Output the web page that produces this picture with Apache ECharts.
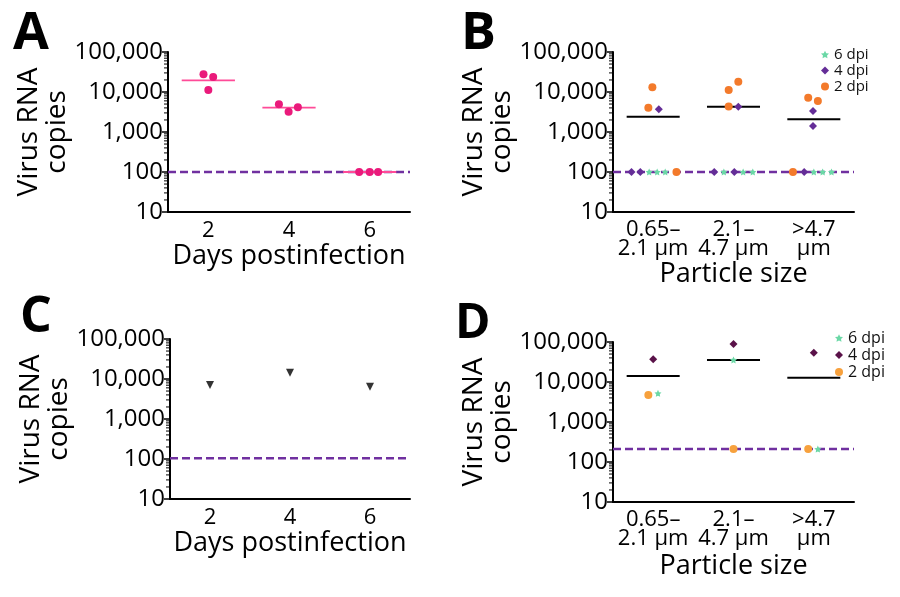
<!DOCTYPE html>
<html><head><meta charset="utf-8">
<script src="https://cdn.jsdelivr.net/npm/echarts@6/dist/echarts.min.js"></script>
<style>html,body{margin:0;padding:0;background:#fff}#c{width:900px;height:597px}</style>
</head><body><div id="c"></div><script>
// ---- data ----
const dayCategories = ['2', '4', '6'];
const sizeCategories = ['0.65–\n2.1 µm', '2.1–\n4.7 µm', '>4.7\nµm'];
const yTickValues = [10, 100, 1000, 10000, 100000];
const dpiNames = ['6 dpi', '4 dpi', '2 dpi'];

const aValues = [[27700, 23700, 11200], [4920, 3220, 4140], [100, 100, 100]];
const aMeans = [19600, 4070, 100];
const aLimit = 100;

const b2dpi = [[13100, 4050, 100], [11200, 18000, 4370], [7200, 5960, 100]];
const b4dpi = [[3700, 100, 100], [4300, 100, 100], [3350, 1410, 100]];
const b6dpi = [[100, 100, 100], [100, 100, 100], [100, 100, 100]];
const bMeans = [2420, 4300, 2080];
const bLimit = 100;

const cValues = [7080, 14400, 6430];
const cLimit = 105;

const d2dpi = [4730, 210, 210];
const d4dpi = [36900, 89000, 54000];
const d6dpi = [5200, 35600, 210];
const dMeans = [14100, 35500, 12800];
const dLimit = 210;

// ---- layout constants (horizontal jitter of points, in band units) ----
const JIT_A = [[-0.06, 0.06, 0], [-0.125, -0.005, 0.11], [-0.13, 0, 0.105]];
const JIT_B2 = [[-0.01, -0.06, 0.29], [-0.06, 0.06, -0.06], [-0.07, 0.05, -0.26]];
const JIT_B4 = [[0.07, -0.27, -0.16], [0.06, -0.24, 0.01], [-0.01, -0.01, -0.12]];
const JIT_B6 = [[-0.05, 0.05, 0.15], [-0.12, 0.12, 0.24], [0, 0.11, 0.22]];
const JIT_D2 = [-0.06, 0, -0.07];
const JIT_D4 = [0, 0, 0];
const JIT_D6 = [0.06, 0, 0.05];
const HALF = 0.33;

const FONT = '"Open Sans", "Noto Sans", sans-serif';
const STAR = 'path://M0,-10L2.9,-4L9.5,-3.1L4.8,1.5L5.9,8.1L0,5L-5.9,8.1L-4.8,1.5L-9.5,-3.1L-2.9,-4Z';
const C = {
  pink: '#ea1a7b', pinkLine: '#ff4b98', lod: '#7030a0',
  bOrange: '#f37a2b', bPurple: '#642d97', green: '#6bd8a6',
  dPurple: '#5a1249', dOrange: '#f7a13d', tri: '#333333'
};

const chart = echarts.init(document.getElementById('c'), null, {renderer: 'canvas'});

const grids = [
  {left: 168, top: 52, width: 242, height: 160},
  {left: 613, top: 52, width: 241, height: 160},
  {left: 170, top: 339, width: 240, height: 160},
  {left: 613, top: 342, width: 241, height: 160}
];

function catAxis(gi, cats, name, gap, lh) {
  return {
    type: 'category', gridIndex: gi, data: cats, boundaryGap: true,
    axisLine: {lineStyle: {color: '#000', width: 2}},
    axisTick: {alignWithLabel: true, length: 5, lineStyle: {color: '#000', width: 1.5}},
    axisLabel: {color: '#000', fontSize: 22, fontFamily: FONT, margin: 8, lineHeight: lh || 22, interval: 0},
    name: name, nameLocation: 'middle', nameGap: gap,
    nameTextStyle: {color: '#000', fontSize: 27, fontFamily: FONT},
    splitLine: {show: false}
  };
}
function valAxis(gi) {
  return {type: 'value', gridIndex: gi, min: 0.5, max: 3.5, show: false};
}
function logAxis(gi) {
  return {
    type: 'log', logBase: 10, gridIndex: gi, min: yTickValues[0], max: yTickValues[yTickValues.length - 1],
    axisLine: {show: true, lineStyle: {color: '#000', width: 2}},
    axisTick: {show: true, length: 6, lineStyle: {color: '#000', width: 1.5}},
    axisLabel: {color: '#000', fontSize: 24, fontFamily: FONT, margin: 5,
      formatter: v => Number(v).toLocaleString('en-US')},
    splitLine: {show: false},
    name: 'Virus RNA\ncopies', nameLocation: 'middle', nameGap: 96,
    nameTextStyle: {color: '#000', fontSize: 28, fontFamily: FONT, lineHeight: 28}
  };
}

const xAxis = [
  catAxis(0, dayCategories, 'Days postinfection', 27),
  valAxis(0),
  catAxis(1, sizeCategories, 'Particle size', 47, 19),
  valAxis(1),
  catAxis(2, dayCategories, 'Days postinfection', 29),
  valAxis(2),
  catAxis(3, sizeCategories, 'Particle size', 51, 19),
  valAxis(3)
];
const yAxis = [logAxis(0), logAxis(1), logAxis(2), logAxis(3)];

const series = [];
// minor log ticks on the y axis (2..9 x each decade between the axis ticks)
function minorTicks(gi) {
  const vals = [];
  for (let k = 0; k < yTickValues.length - 1; k++) {
    for (let m = 2; m <= 9; m++) vals.push([0.5, yTickValues[k] * m]);
  }
  series.push({
    type: 'custom', xAxisIndex: 2 * gi + 1, yAxisIndex: gi, data: vals, silent: true, z: 5, clip: false,
    renderItem: (params, api) => {
      const p = api.coord([api.value(0), api.value(1)]);
      return {type: 'line', shape: {x1: p[0] - 4, y1: p[1], x2: p[0], y2: p[1]},
        style: {stroke: '#000', lineWidth: 1}};
    }
  });
}
function lodLine(gi, v) {
  series.push({
    type: 'line', xAxisIndex: 2 * gi + 1, yAxisIndex: gi, data: [[0.5, v], [3.5, v]],
    symbol: 'none', silent: true, z: 1,
    lineStyle: {color: C.lod, width: 2.5, type: [8, 4]}
  });
}
function meanLines(gi, means, color, width) {
  means.forEach((m, i) => {
    series.push({
      type: 'line', xAxisIndex: 2 * gi + 1, yAxisIndex: gi,
      data: [[i + 1 - HALF, m], [i + 1 + HALF, m]], symbol: 'none', silent: true, z: 2,
      lineStyle: {color: color, width: width}
    });
  });
}
function points(gi, name, pts, symbol, size, color, rotate) {
  series.push({
    type: 'scatter', name: name, xAxisIndex: 2 * gi + 1, yAxisIndex: gi, data: pts,
    symbol: symbol, symbolSize: size, symbolRotate: rotate || 0, z: 3,
    itemStyle: {color: color, opacity: 1}
  });
}
function groupPts(vals, jit) {
  const out = [];
  vals.forEach((arr, i) => arr.forEach((v, j) => out.push([i + 1 + jit[i][j], v])));
  return out;
}

// Panel A
minorTicks(0);
lodLine(0, aLimit);
meanLines(0, aMeans, C.pinkLine, 1.8);
points(0, 'A', groupPts(aValues, JIT_A), 'circle', 8, C.pink);

// Panel B
minorTicks(1);
lodLine(1, bLimit);
meanLines(1, bMeans, '#000', 2);
points(1, dpiNames[2], groupPts(b2dpi, JIT_B2), 'circle', 8, C.bOrange);
points(1, dpiNames[1], groupPts(b4dpi, JIT_B4), 'diamond', 8, C.bPurple);
points(1, dpiNames[0], groupPts(b6dpi, JIT_B6), STAR, 7, C.green);

// Panel C
minorTicks(2);
lodLine(2, cLimit);
points(2, 'C', cValues.map((v, i) => [i + 1, v]), 'triangle', 8, C.tri, 180);

// Panel D
minorTicks(3);
lodLine(3, dLimit);
meanLines(3, dMeans, '#000', 2);
points(3, dpiNames[2], d2dpi.map((v, i) => [i + 1 + JIT_D2[i], v]), 'circle', 8, C.dOrange);
points(3, dpiNames[1], d4dpi.map((v, i) => [i + 1 + JIT_D4[i], v]), 'diamond', 8, C.dPurple);
points(3, dpiNames[0], d6dpi.map((v, i) => [i + 1 + JIT_D6[i], v]), STAR, 7, C.green);

const legendText = {color: '#111', fontSize: 15, fontFamily: FONT, lineHeight: 14};
const option = {
  animation: false,
  backgroundColor: '#fff',
  grid: grids,
  xAxis: xAxis,
  yAxis: yAxis,
  legend: [
    {left: 816, top: 42, orient: 'vertical', itemWidth: 8, itemHeight: 8, itemGap: 1,
      textStyle: legendText, selectedMode: false,
      data: [{name: dpiNames[0], icon: STAR, itemStyle: {color: C.green}},
             {name: dpiNames[1], icon: 'diamond', itemStyle: {color: C.bPurple}},
             {name: dpiNames[2], icon: 'circle', itemStyle: {color: C.bOrange}}]},
    {left: 830, top: 325, orient: 'vertical', itemWidth: 8, itemHeight: 8, itemGap: 1,
      textStyle: Object.assign({}, legendText, {fontSize: 16, lineHeight: 15}), selectedMode: false,
      data: [{name: dpiNames[0], icon: STAR, itemStyle: {color: C.green}},
             {name: dpiNames[1], icon: 'diamond', itemStyle: {color: C.dPurple}},
             {name: dpiNames[2], icon: 'circle', itemStyle: {color: C.dOrange}}]}
  ],
  graphic: [
    {type: 'text', left: 13, top: 8, style: {text: 'A', font: 'bold 52px "Open Sans", sans-serif', fill: '#000'}},
    {type: 'text', left: 461, top: 8, style: {text: 'B', font: 'bold 52px "Open Sans", sans-serif', fill: '#000'}},
    {type: 'text', left: 20, top: 293, style: {text: 'C', font: 'bold 50px "Open Sans", sans-serif', fill: '#000'}},
    {type: 'text', left: 455, top: 300, style: {text: 'D', font: 'bold 48px "Open Sans", sans-serif', fill: '#000'}}
  ],
  series: series
};
chart.setOption(option);
</script></body></html>
